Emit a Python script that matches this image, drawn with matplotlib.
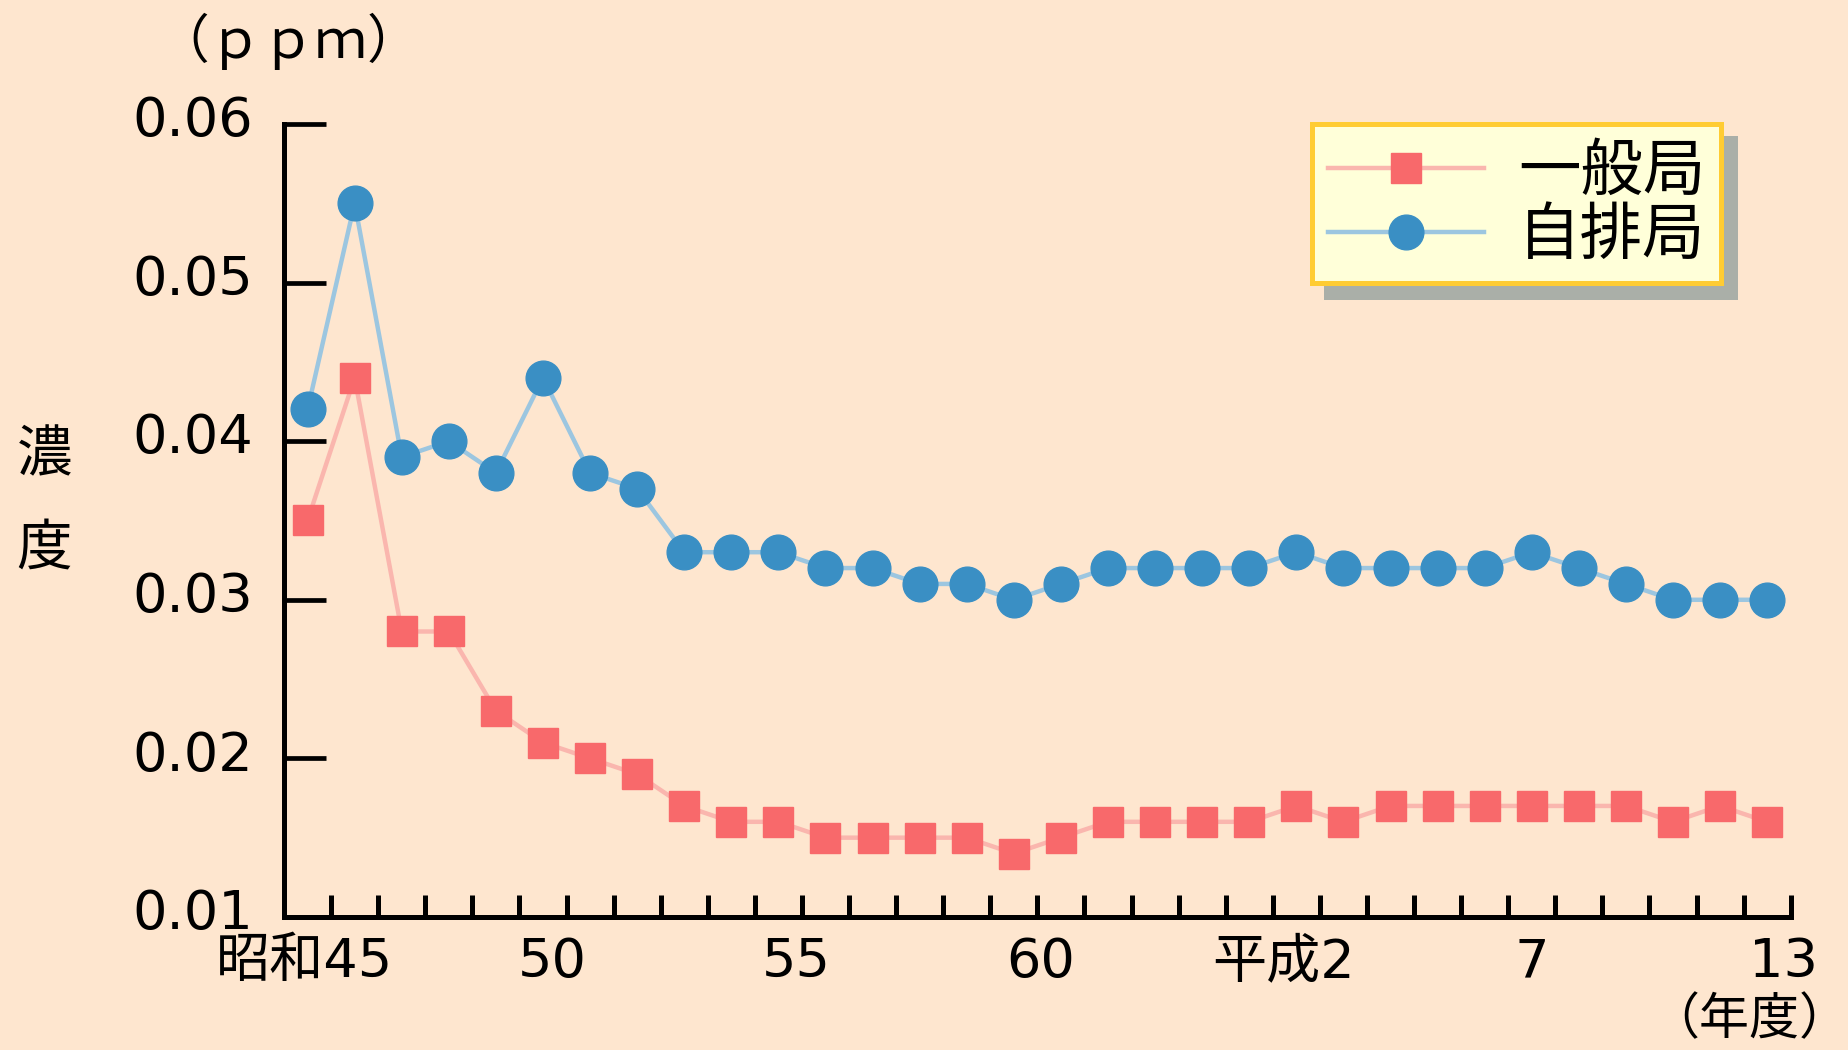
import matplotlib
matplotlib.use("Agg")
import matplotlib.pyplot as plt
import matplotlib.transforms as mtransforms
import numpy as np

plt.rcParams['font.family'] = ['DejaVu Sans', 'Noto Sans CJK JP']

# 年度 (昭和45 ～ 平成13), 32 years
years = list(range(32))
ippan = [0.035, 0.044, 0.028, 0.028, 0.023, 0.021, 0.020, 0.019, 0.017, 0.016,
         0.016, 0.015, 0.015, 0.015, 0.015, 0.014, 0.015, 0.016, 0.016, 0.016,
         0.016, 0.017, 0.016, 0.017, 0.017, 0.017, 0.017, 0.017, 0.017, 0.016,
         0.017, 0.016]
jihai = [0.042, 0.055, 0.039, 0.040, 0.038, 0.044, 0.038, 0.037, 0.033, 0.033,
         0.033, 0.032, 0.032, 0.031, 0.031, 0.030, 0.031, 0.032, 0.032, 0.032,
         0.032, 0.033, 0.032, 0.032, 0.032, 0.032, 0.033, 0.032, 0.031, 0.030,
         0.030, 0.030]
x_labels = ['昭和45', '50', '55', '60', '平成2', '7', '13']
x_label_pos = [-0.07, 5.19, 10.39, 15.58, 20.73, 26.0, 31.35]
y_ticks = [0.01, 0.02, 0.03, 0.04, 0.05, 0.06]
series_names = ['一般局', '自排局']

bg = '#fee6cf'
fig = plt.figure(figsize=(18.48, 10.5), dpi=100, facecolor=bg)
ax = fig.add_axes([0.1537, 0.1267, 0.8153, 0.7552])
ax.set_facecolor(bg)

l1, = ax.plot(years, ippan, color='#fab6ae', lw=3.2, marker='s', ms=22,
              mfc='#f8696b', mec='#f8696b', clip_on=False, zorder=3)
l2, = ax.plot(years, jihai, color='#9cc6e0', lw=3.2, marker='o', ms=25,
              mfc='#3a8fc4', mec='#3a8fc4', clip_on=False, zorder=3)

ax.set_xlim(-0.5, 31.5)
ax.set_ylim(0.01, 0.06)

for s in ['top', 'right']:
    ax.spines[s].set_visible(False)
for s in ['left', 'bottom']:
    ax.spines[s].set_linewidth(3.6)
    ax.spines[s].set_color('black')

ax.set_yticks(y_ticks)
ax.set_yticklabels([f'{v:.2f}' for v in y_ticks])
ax.tick_params(axis='y', direction='in', length=30, width=3.4, pad=22,
               labelsize=39)
# labels sit a little above their ticks in the original
lift = mtransforms.ScaledTranslation(0, 6 / 72, fig.dpi_scale_trans)
for t in ax.get_yticklabels():
    t.set_transform(t.get_transform() + lift)

ax.set_xticks(x_label_pos)
ax.set_xticklabels(x_labels)
ax.set_xticks(np.arange(0.5, 32, 1), minor=True)
ax.tick_params(axis='x', which='major', length=0, pad=14, labelsize=39)
ax.tick_params(axis='x', which='minor', direction='in', length=16, width=3.6)

fig.text(0.156, 0.961, '（ｐｐｍ）', fontsize=38, ha='center', va='center',
         family=['Noto Sans CJK JP'])
fig.text(0.024, 0.522, '濃\n度', fontsize=40, ha='center', va='center',
         linespacing=1.8, family=['Noto Sans CJK JP'])
fig.text(0.9465, 0.004, '（年度）', fontsize=36, ha='center', va='bottom',
         family=['Noto Sans CJK JP'])

leg = ax.legend([l1, l2], series_names, loc='upper left',
                bbox_to_anchor=(1312 / 1848, 1 - 124 / 1050),
                bbox_transform=fig.transFigure, borderaxespad=0,
                prop={'family': ['Noto Sans CJK JP'], 'size': 45},
                handlelength=2.5, handletextpad=0.55, borderpad=0.25,
                labelspacing=0.0, numpoints=1, fancybox=False, framealpha=1,
                facecolor='#ffffd9', edgecolor='#ffcc33',
                shadow={'facecolor': '#aaafa8', 'edgecolor': '#aaafa8',
                        'alpha': 1, 'ox': 10, 'oy': -10})
leg.get_frame().set_linewidth(3.6)

fig.savefig('out.png', dpi=100, facecolor=bg)
